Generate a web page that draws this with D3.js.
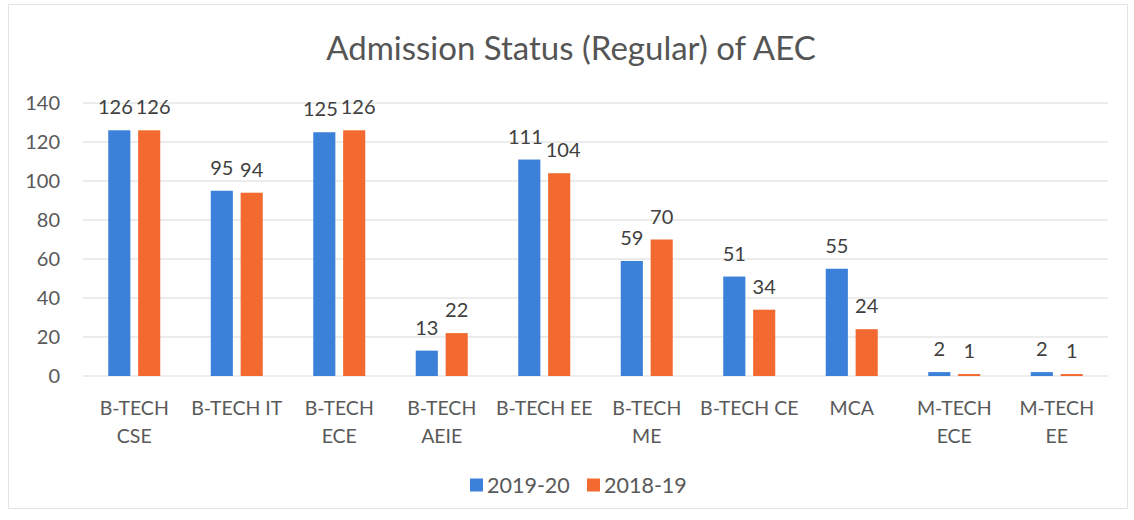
<!DOCTYPE html>
<html>
<head>
<meta charset="utf-8">
<script src="https://cdn.jsdelivr.net/npm/d3@7"></script>
<style>
  body { margin: 0; background: #fff; }
  text { font-family: Lato, "Open Sans", sans-serif; }
</style>
</head>
<body>
<svg id="chart" width="1134" height="520"></svg>
<script>
// chart data
const categories = ["B-TECH\nCSE", "B-TECH IT", "B-TECH\nECE", "B-TECH\nAEIE", "B-TECH EE",
                    "B-TECH\nME", "B-TECH CE", "MCA", "M-TECH\nECE", "M-TECH\nEE"];
const seriesNames = ["2019-20", "2018-19"];
const values2019 = [126, 95, 125, 13, 111, 59, 51, 55, 2, 2];
const values2018 = [126, 94, 126, 22, 104, 70, 34, 24, 1, 1];
const yTicks = [0, 20, 40, 60, 80, 100, 120, 140];
const colors = ["#3b80d9", "#f26a30"];

const rows = categories.map((c, i) => ({ cat: c, vals: [values2019[i], values2018[i]] }));

const svg = d3.select("#chart");
const margin = { top: 103, left: 83, right: 26, bottom: 144 };
const width = 1134 - margin.left - margin.right;
const height = 520 - margin.top - margin.bottom;

// chart frame
svg.append("rect")
  .attr("x", 8.5).attr("y", 4.5)
  .attr("width", 1119).attr("height", 504)
  .attr("fill", "none")
  .attr("stroke", "#e4e4e4");

// title
svg.append("text")
  .attr("x", 571).attr("y", 60)
  .attr("text-anchor", "middle")
  .attr("font-size", 33)
  .attr("fill", "#555")
  .text("Admission Status (Regular) of AEC");

const g = svg.append("g").attr("transform", `translate(${margin.left},${margin.top})`);

const x0 = d3.scaleBand().domain(categories).range([0, width]).padding(0);
const bw = x0.bandwidth();
const x1 = d3.scaleBand().domain(seriesNames)
  .range([bw / 2 - 26, bw / 2 + 26]).paddingInner(0.26);
const y = d3.scaleLinear().domain([0, 140]).range([height, 0]);

// gridlines
g.append("g")
  .selectAll("line")
  .data(yTicks)
  .enter().append("line")
  .attr("x1", 0).attr("x2", width)
  .attr("y1", d => y(d)).attr("y2", d => y(d))
  .attr("stroke", "#d9d9d9")
  .attr("stroke-width", 1);

// y axis labels
g.append("g")
  .call(d3.axisLeft(y).tickValues(yTicks).tickSize(0).tickPadding(23))
  .call(a => a.select(".domain").remove())
  .selectAll("text")
  .attr("font-size", 20)
  .attr("fill", "#595959")
  .attr("font-family", "Lato, sans-serif");

// bars
const groups = g.selectAll(".grp")
  .data(rows)
  .enter().append("g")
  .attr("class", "grp")
  .attr("transform", d => `translate(${x0(d.cat)},0)`);

groups.selectAll("rect")
  .data(d => d.vals.map((v, i) => ({ key: seriesNames[i], v, i })))
  .enter().append("rect")
  .attr("x", d => x1(d.key))
  .attr("y", d => y(d.v))
  .attr("width", x1.bandwidth())
  .attr("height", d => height - y(d.v))
  .attr("fill", d => colors[d.i]);

groups.each(function() {
  const grp = d3.select(this);
  const labels = grp.selectAll(".lbl")
    .data(d => d.vals.map((v, i) => ({ key: seriesNames[i], v, i })))
    .enter().append("text")
    .attr("class", "lbl")
    .attr("x", d => x1(d.key) + x1.bandwidth() / 2)
    .attr("y", d => y(d.v) - 16)
    .attr("text-anchor", "middle")
    .attr("font-size", 20)
    .attr("fill", "#404040")
    .text(d => d.v);

  // push the two labels apart if they run into each other
  const nodes = labels.nodes();
  const w0 = nodes[0].getComputedTextLength(), w1 = nodes[1].getComputedTextLength();
  const c0 = +nodes[0].getAttribute("x"), c1 = +nodes[1].getAttribute("x");
  const overlap = (c0 + w0 / 2) - (c1 - w1 / 2) + 3;
  const sameRow = Math.abs(+nodes[0].getAttribute("y") - +nodes[1].getAttribute("y")) < 18;
  if (overlap > 0 && sameRow) {
    nodes[0].setAttribute("x", c0 - overlap / 2);
    nodes[1].setAttribute("x", c1 + overlap / 2);
  }
});

// x axis labels
const xAxis = g.append("g")
  .attr("transform", `translate(0,${height})`)
  .call(d3.axisBottom(x0).tickSize(0).tickFormat(""));
xAxis.select(".domain").remove();
xAxis.selectAll(".tick").each(function(d) {
  const lines = d.split("\n");
  const t = d3.select(this).append("text")
    .attr("text-anchor", "middle")
    .attr("font-size", 19.5)
    .attr("fill", "#595959");
  lines.forEach((ln, k) => {
    t.append("tspan").attr("x", 0).attr("y", 39 + k * 28).text(ln);
  });
});

// legend
const legend = svg.append("g").attr("transform", "translate(470,485)");
const items = legend.selectAll("g")
  .data(seriesNames)
  .enter().append("g")
  .attr("transform", (d, i) => `translate(${i * 117},0)`);
items.append("rect")
  .attr("x", 0).attr("y", -6.5)
  .attr("width", 13).attr("height", 13)
  .attr("fill", (d, i) => colors[i]);
items.append("text")
  .attr("x", 17).attr("y", 8)
  .attr("font-size", 21.5)
  .attr("fill", "#595959")
  .text(d => d);
</script>
</body>
</html>
